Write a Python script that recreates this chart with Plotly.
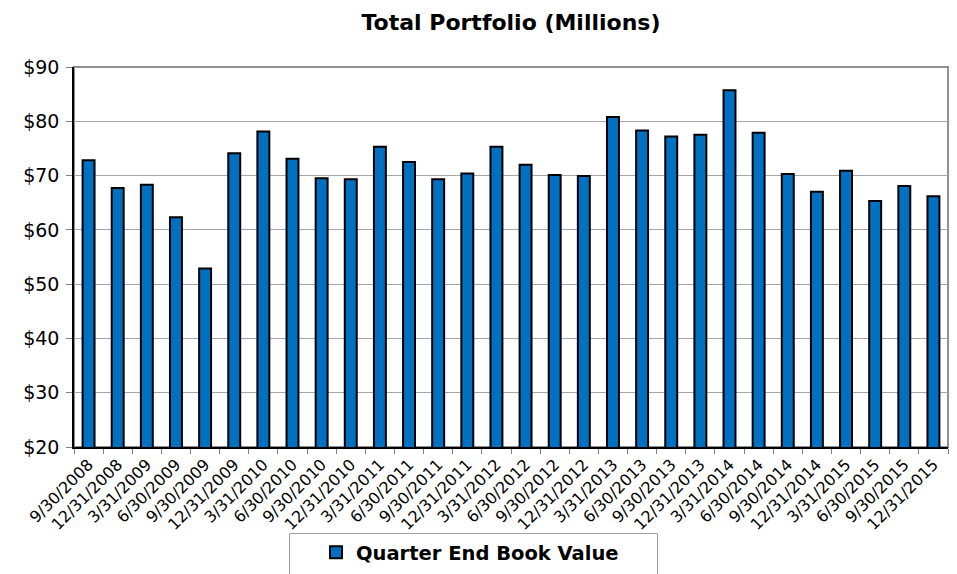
import plotly.graph_objects as go

quarters = [
    "9/30/2008", "12/31/2008", "3/31/2009", "6/30/2009", "9/30/2009", "12/31/2009",
    "3/31/2010", "6/30/2010", "9/30/2010", "12/31/2010", "3/31/2011", "6/30/2011",
    "9/30/2011", "12/31/2011", "3/31/2012", "6/30/2012", "9/30/2012", "12/31/2012",
    "3/31/2013", "6/30/2013", "9/30/2013", "12/31/2013", "3/31/2014", "6/30/2014",
    "9/30/2014", "12/31/2014", "3/31/2015", "6/30/2015", "9/30/2015", "12/31/2015",
]
book_value = [
    72.8, 67.7, 68.3, 62.3, 52.9, 74.1,
    78.1, 73.1, 69.5, 69.3, 75.3, 72.5,
    69.3, 70.4, 75.3, 72.0, 70.1, 69.9,
    80.8, 78.3, 77.2, 77.5, 85.7, 77.9,
    70.3, 67.0, 70.9, 65.3, 68.1, 66.2,
]
y_ticks = [20, 30, 40, 50, 60, 70, 80, 90]
y_tick_text = ["$" + str(v) for v in y_ticks]

FONT = "DejaVu Sans, Arial, sans-serif"

# the page body has an 8px default margin; work in page pixels and convert
OFF = 8
W, H = 957 - OFF, 574 - OFF
L = 74 - OFF
T = 67 - OFF
R = W - (948 - OFF)
B = H - (447 - OFF)
pw = W - L - R
ph = H - T - B

def px_x(x):
    return (x - OFF - L) / pw

def px_y(y):
    return (H - B - (y - OFF)) / ph

fig = go.Figure()
fig.add_trace(go.Bar(
    x=quarters,
    y=book_value,
    name="Quarter End Book Value",
    marker=dict(color="#0070C0", line=dict(color="#000000", width=2)),
    showlegend=True,
))

fig.update_layout(
    width=W, height=H,
    margin=dict(l=L, r=R, t=T, b=B, pad=0, autoexpand=False),
    paper_bgcolor="white",
    plot_bgcolor="white",
    bargap=0.59,
    title=dict(
        text="<b>Total Portfolio (Millions)</b>",
        x=0.5, xref="paper", xanchor="center",
        y=1 - (22 - OFF) / H, yref="container", yanchor="middle",
        font=dict(family=FONT, size=22, color="#000000"),
    ),
    xaxis=dict(
        type="category",
        tickangle=-45,
        tickson="boundaries",
        ticks="outside", ticklen=5, tickcolor="#808080", tickwidth=1,
        showline=True, linecolor="#000000", linewidth=2,
        showgrid=False,
        tickfont=dict(family=FONT, size=16, color="#000000"),
        automargin=False,
    ),
    yaxis=dict(
        range=[20, 90],
        tickmode="array", tickvals=y_ticks, ticktext=y_tick_text,
        ticks="outside", ticklen=6, tickcolor="#808080", tickwidth=1,
        showline=True, linecolor="#000000", linewidth=1.5,
        showgrid=True, gridcolor="#A6A6A6", gridwidth=1,
        zeroline=False,
        tickfont=dict(family=FONT, size=19, color="#000000"),
        ticklabelstandoff=3,
        automargin=False,
    ),
    legend=dict(
        orientation="h",
        xref="container", x=(316 - OFF) / W, xanchor="left",
        yref="container", y=(H - (533 - OFF)) / H, yanchor="top",
        bgcolor="rgba(0,0,0,0)",
        borderwidth=0,
        font=dict(family=FONT, size=19.5, color="#000000", weight="bold"),
        itemclick=False, itemdoubleclick=False,
    ),
    shapes=[
        dict(type="rect", xref="paper", yref="paper", x0=0, x1=1, y0=0, y1=1,
             line=dict(color="#909090", width=2), layer="below"),
        dict(type="rect", xref="paper", yref="paper",
             x0=px_x(289.5), x1=px_x(657.5), y0=px_y(580), y1=px_y(533.5),
             line=dict(color="#A0A0A0", width=1), fillcolor="rgba(0,0,0,0)", layer="below"),
    ],
)

fig.write_html("out.html")
